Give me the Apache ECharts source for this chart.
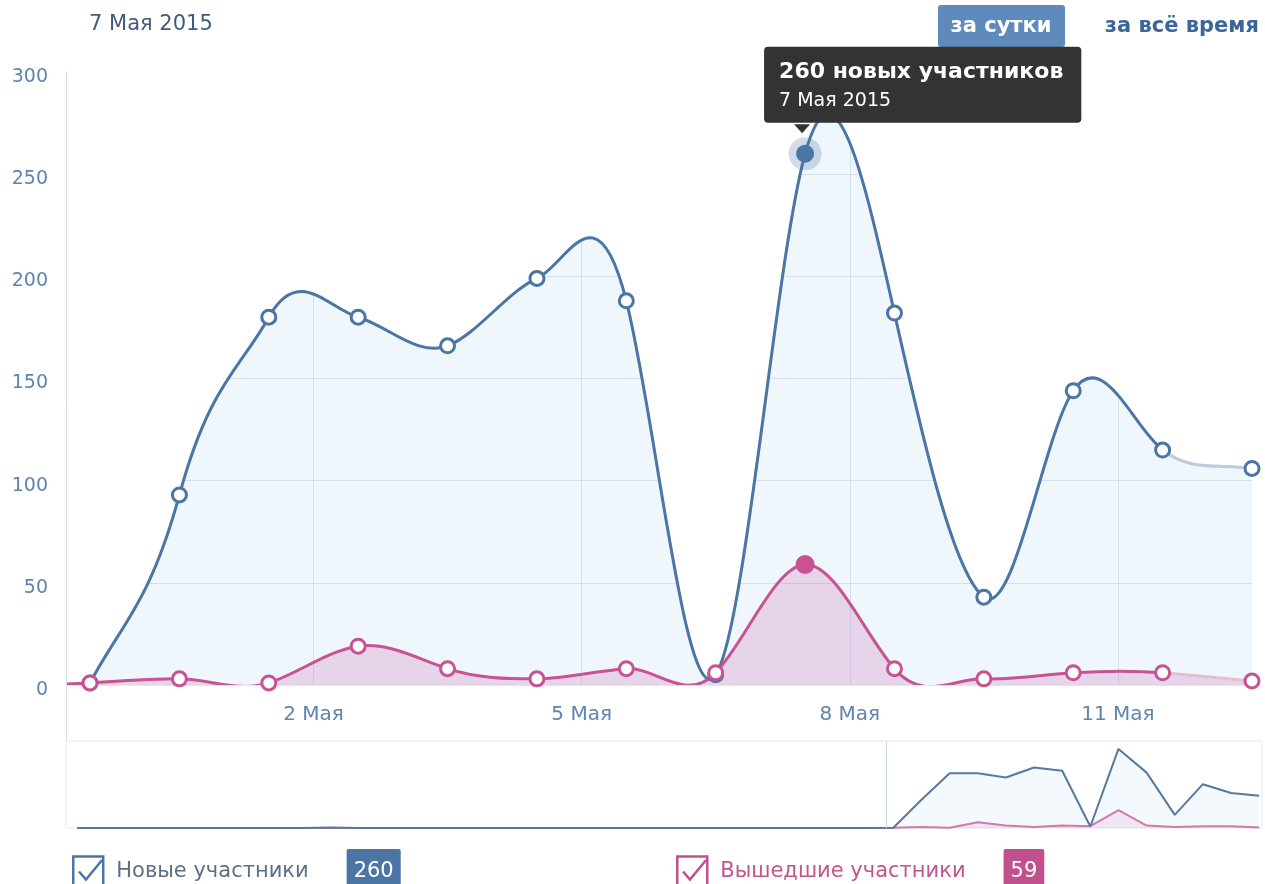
<!DOCTYPE html>
<html>
<head>
    <meta charset="utf-8">
    <title>Участники</title>
    <script src="https://cdn.jsdelivr.net/npm/echarts@6/dist/echarts.min.js"></script>
    <style>
        html, body { margin: 0; padding: 0; background: #fff; }
        #container { width: 1265px; height: 884px; }
    </style>
</head>
<body>
<div id="container"></div>

<script type="text/javascript">
    // дни, которые видны в основном окне
    var days = ['2015-04-29', '2015-04-30', '2015-05-01', '2015-05-02', '2015-05-03', '2015-05-04', '2015-05-05',
        '2015-05-06', '2015-05-07', '2015-05-08', '2015-05-09', '2015-05-10', '2015-05-11', '2015-05-12'];
    var newMembers  = [1, 93, 180, 180, 166, 199, 188, 5, 260, 182, 43, 144, 115, 106];
    var leftMembers = [1, 3, 1, 19, 8, 3, 8, 6, 59, 8, 3, 6, 6, 2];

    // более ранние дни, видны только в мини-графике
    var historyNew  = [0, 0, 0, 0, 0, 0, 0, 0, 0, 2, 0, 0, 0, 0, 0, 0, 0, 0, 0, 0, 0, 0, 0, 0, 0, 0, 0, 0, 0];
    var historyLeft = [0, 0, 0, 0, 0, 0, 0, 0, 0, 0, 0, 0, 0, 0, 0, 0, 0, 0, 0, 0, 0, 0, 0, 0, 0, 0, 0, 0, 0];

    var xTickDays = ['2015-05-02', '2015-05-05', '2015-05-08', '2015-05-11'];
    var xTickLabels = ['2 Мая', '5 Мая', '8 Мая', '11 Мая'];
    var monthNames = ['Января', 'Февраля', 'Марта', 'Апреля', 'Мая', 'Июня',
        'Июля', 'Августа', 'Сентября', 'Октября', 'Ноября', 'Декабря'];
    var selectedDay = '2015-05-07';

    var DAY = 86400000;
    var FONT = '"DejaVu Sans", Verdana, sans-serif';
    var blue = '#4a75a5', blueFade = '#bccbdd', pink = '#c85292', pinkFade = '#e7bcd4';

    function noon(d) { return new Date(d + 'T12:00:00').getTime(); }
    function midnight(d) { return new Date(d + 'T00:00:00').getTime(); }
    function dateText(d) {
        var dt = new Date(d + 'T12:00:00');
        return dt.getDate() + ' ' + monthNames[dt.getMonth()] + ' ' + dt.getFullYear();
    }
    function plural(n, forms) {
        var m10 = n % 10, m100 = n % 100;
        if (m10 == 1 && m100 != 11) return forms[0];
        if (m10 >= 2 && m10 <= 4 && (m100 < 10 || m100 >= 20)) return forms[1];
        return forms[2];
    }

    var times = days.map(noon);
    var historyTimes = historyNew.map(function (v, i) { return times[0] - (historyNew.length - i) * DAY; });
    var last = times.length - 1;
    var sel = days.indexOf(selectedDay);
    var tickTimes = xTickDays.map(midnight);

    var xMin = times[0] - 6.45 * 3600000;
    var xMax = times[last];
    var miniMin = xMax - 42.4 * DAY;
    var miniMax = xMax + 0.1 * DAY;

    // сплайн по точкам (в пикселях): по x треть шага, по y натянутая касательная
    function splineSegs(pts, k) {
        var segs = [];
        for (var i = 0; i < pts.length - 1; i++) {
            var p0 = pts[i - 1] || pts[i], p1 = pts[i], p2 = pts[i + 1], p3 = pts[i + 2] || pts[i + 1];
            var dx = (p2[0] - p1[0]) / 3;
            var c1 = [p1[0] + dx, p1[1] + (p2[1] - p0[1]) * k];
            var c2 = [p2[0] - dx, p2[1] - (p3[1] - p1[1]) * k];
            segs.push('C' + c1[0] + ',' + c1[1] + ' ' + c2[0] + ',' + c2[1] + ' ' + p2[0] + ',' + p2[1]);
        }
        return segs;
    }

    function splineItem(values, prevValue, lineColor, fadeColor, areaColor, withCover) {
        return function (params, api) {
            if (params.dataIndex !== 0) return null;
            var pts = [api.coord([times[0] - DAY, prevValue])];
            for (var i = 0; i < values.length; i++) pts.push(api.coord([times[i], values[i]]));
            var segs = splineSegs(pts, 0.3);
            var first = pts[0], end = pts[pts.length - 1];
            var zeroY = api.coord([xMin, 0])[1];
            var topY = api.coord([xMin, 300])[1];
            var children = [{
                type: 'path',
                shape: { pathData: 'M' + first[0] + ',' + zeroY + 'L' + first[0] + ',' + first[1] + segs.join('') + 'L' + end[0] + ',' + zeroY + 'Z' },
                style: { fill: areaColor, stroke: 'none' }
            }];
            if (withCover) {
                // белая заливка над линией прячет сетку
                children.push({
                    type: 'path',
                    shape: { pathData: 'M' + first[0] + ',' + topY + 'L' + first[0] + ',' + first[1] + segs.join('') + 'L' + end[0] + ',' + topY + 'Z' },
                    style: { fill: '#fff', stroke: 'none' }
                });
            }
            var pre = pts[pts.length - 2];
            children.push({
                type: 'path',
                shape: { pathData: 'M' + first[0] + ',' + first[1] + segs.slice(0, segs.length - 1).join('') },
                style: { fill: 'none', stroke: lineColor, lineWidth: 3, lineJoin: 'round', lineCap: 'round' }
            });
            children.push({
                type: 'path',
                shape: { pathData: 'M' + pre[0] + ',' + pre[1] + segs[segs.length - 1] },
                style: { fill: 'none', stroke: fadeColor, lineWidth: 3, lineCap: 'round' }
            });
            return { type: 'group', children: children };
        };
    }

    function pairs(ts, vals) { return ts.map(function (t, i) { return [t, vals[i]]; }); }

    var tipText = '{a|' + newMembers[sel] + ' ' + plural(newMembers[sel], ['новый участник', 'новых участника', 'новых участников']) +
        '}\n{b|' + dateText(selectedDay) + '}';

    var newPoints = times.map(function (t, i) {
        if (i !== sel) return [t, newMembers[i]];
        return {
            value: [t, newMembers[i]],
            symbolSize: 15,
            itemStyle: { color: blue, borderColor: blue },
            label: {
                show: true,
                position: [-32, -98],
                formatter: tipText,
                backgroundColor: '#333',
                borderRadius: 4,
                padding: [11, 18, 9, 15],
                rich: {
                    a: { color: '#fff', fontFamily: FONT, fontWeight: 'bold', fontSize: 22, lineHeight: 30 },
                    b: { color: '#fff', fontFamily: FONT, fontSize: 19, lineHeight: 26 }
                }
            }
        };
    });
    var leftPoints = times.map(function (t, i) {
        if (i !== sel) return [t, leftMembers[i]];
        return { value: [t, leftMembers[i]], symbolSize: 16, itemStyle: { color: pink, borderColor: pink } };
    });

    var checkIcon = 'path://M2,2H28V28H2Z M7,15L13,22L27,5';

    function legendFor(name, left, textColor, boxColor, badge) {
        return {
            left: left, top: 849, padding: 0,
            data: [name],
            icon: checkIcon,
            itemWidth: 30, itemHeight: 30,
            itemStyle: { color: 'rgba(0,0,0,0)', borderColor: boxColor, borderWidth: 2.5 },
            selectedMode: false,
            formatter: function (n) { return '{t|' + n + '}{b|' + badge + '}'; },
            textStyle: {
                rich: {
                    t: { fontFamily: FONT, fontSize: 21, color: textColor, padding: [0, 38, 0, 8] },
                    b: { fontFamily: FONT, fontSize: 21, color: '#fff', backgroundColor: boxColor, padding: [12, 7, 12, 7], borderRadius: 2 }
                }
            }
        };
    }

    var options = {
        animation: false,
        title: {
            text: dateText(selectedDay),
            left: 84, top: 9,
            textStyle: { fontFamily: FONT, fontSize: 21, fontWeight: 'normal', color: '#3f5c7e' }
        },
        graphic: [
            { type: 'rect', shape: { x: 938, y: 5, width: 127, height: 42, r: 3 }, style: { fill: '#5f8abc' } },
            { type: 'text', x: 1001, y: 27, style: { text: 'за сутки', fill: '#fff', font: 'bold 21px ' + FONT, align: 'center', verticalAlign: 'middle' } },
            { type: 'text', x: 1259, y: 27, style: { text: 'за всё время', fill: '#3b6699', font: 'bold 21px ' + FONT, align: 'right', verticalAlign: 'middle' } }
        ],
        legend: [
            legendFor('Новые участники', 72, '#5d6f87', blue, newMembers[sel]),
            legendFor('Вышедшие участники', 676, '#c2548f', '#c0518d', leftMembers[sel])
        ],
        grid: [
            { left: 66, right: 13, top: 72, bottom: 199 },
            { left: 66, right: 3, top: 741, bottom: 56, show: true, borderColor: '#e1e8f0', borderWidth: 1 }
        ],
        xAxis: [{
            type: 'value', gridIndex: 0, min: xMin, max: xMax,
            axisLine: { show: false },
            axisTick: { show: false, customValues: tickTimes },
            splitLine: { show: true, customValues: tickTimes, lineStyle: { color: '#dfe8f2', width: 1 } },
            axisLabel: {
                customValues: tickTimes,
                margin: 20,
                fontFamily: FONT, fontSize: 20, color: '#5f84ad',
                formatter: function (v) {
                    var i = tickTimes.indexOf(v);
                    return i >= 0 ? xTickLabels[i] : '';
                }
            }
        }, {
            type: 'value', gridIndex: 1, min: miniMin, max: miniMax,
            axisLine: { show: false }, axisTick: { show: false }, axisLabel: { show: false }, splitLine: { show: false }
        }],
        yAxis: [{
            type: 'value', gridIndex: 0, min: 0, max: 300, interval: 50,
            axisLine: { show: false }, axisTick: { show: false },
            splitLine: { lineStyle: { color: '#dfe8f2', width: 1 } },
            axisLabel: {
                margin: 18, verticalAlign: 'top', lineHeight: 10,
                fontFamily: FONT, fontSize: 19, color: '#5f84ad'
            }
        }, {
            type: 'value', gridIndex: 1, min: 0, max: 286,
            axisLine: { show: false }, axisTick: { show: false }, axisLabel: { show: false }, splitLine: { show: false }
        }],
        series: [{
            name: 'mini-left', type: 'line', xAxisIndex: 1, yAxisIndex: 1,
            data: pairs(historyTimes.concat(times), historyLeft.concat(leftMembers)),
            symbol: 'none', silent: true,
            lineStyle: { width: 2, color: '#d27aa8' },
            areaStyle: { color: 'rgba(200,90,160,0.18)' }
        }, {
            name: 'mini-new', type: 'line', xAxisIndex: 1, yAxisIndex: 1,
            data: pairs(historyTimes.concat(times), historyNew.concat(newMembers)),
            symbol: 'none', silent: true,
            lineStyle: { width: 2, color: '#57789f' },
            areaStyle: { color: 'rgba(100,170,225,0.1)' },
            markLine: {
                silent: true, symbol: 'none', label: { show: false },
                lineStyle: { color: '#c9d6e4', width: 1, type: 'solid' },
                data: [{ xAxis: xMin }]
            }
        }, {
            name: 'Новые участники', type: 'custom', xAxisIndex: 0, yAxisIndex: 0,
            clip: true, silent: true,
            itemStyle: { color: blue },
            data: pairs(times, newMembers),
            renderItem: splineItem(newMembers, historyNew[historyNew.length - 1], blue, blueFade, 'rgba(96,166,224,0.1)', true)
        }, {
            name: 'halo', type: 'scatter', xAxisIndex: 0, yAxisIndex: 0, silent: true, clip: false,
            symbolSize: 33,
            itemStyle: { color: 'rgba(75,117,164,0.25)', opacity: 1 },
            data: [[times[sel], newMembers[sel]]]
        }, {
            name: 'new-points', type: 'scatter', xAxisIndex: 0, yAxisIndex: 0, silent: true, clip: false,
            symbol: 'circle', symbolSize: 14,
            itemStyle: { color: '#fff', borderColor: blue, borderWidth: 3, opacity: 1 },
            data: newPoints,
            markPoint: {
                silent: true,
                symbol: 'triangle', symbolRotate: 180, symbolSize: [16, 9], symbolOffset: [-3, -25],
                itemStyle: { color: '#333' }, label: { show: false },
                data: [{ coord: [times[sel], newMembers[sel]] }]
            }
        }, {
            name: 'Вышедшие участники', type: 'custom', xAxisIndex: 0, yAxisIndex: 0,
            clip: true, silent: true,
            itemStyle: { color: pink },
            data: pairs(times, leftMembers),
            renderItem: splineItem(leftMembers, historyLeft[historyLeft.length - 1], pink, pinkFade, 'rgba(190,80,160,0.2)', false)
        }, {
            name: 'left-points', type: 'scatter', xAxisIndex: 0, yAxisIndex: 0, silent: true, clip: false,
            symbol: 'circle', symbolSize: 14,
            itemStyle: { color: '#fff', borderColor: pink, borderWidth: 3, opacity: 1 },
            data: leftPoints
        }]
    };

    var mychart = echarts.init(document.getElementById('container'));
    mychart.setOption(options);

    // ось Y тянется до мини-графика
    var axisTop = mychart.convertToPixel({ gridIndex: 0 }, [xMin, 300]);
    var axisBottom = mychart.convertToPixel({ gridIndex: 1 }, [miniMin, 286]);
    options.graphic.push({
        type: 'line', z: 10, silent: true,
        shape: { x1: axisTop[0] + 0.5, y1: axisTop[1], x2: axisTop[0] + 0.5, y2: axisBottom[1] },
        style: { stroke: '#d6dfe9', lineWidth: 1 }
    });
    mychart.setOption({ graphic: options.graphic });
</script>
</body>
</html>
